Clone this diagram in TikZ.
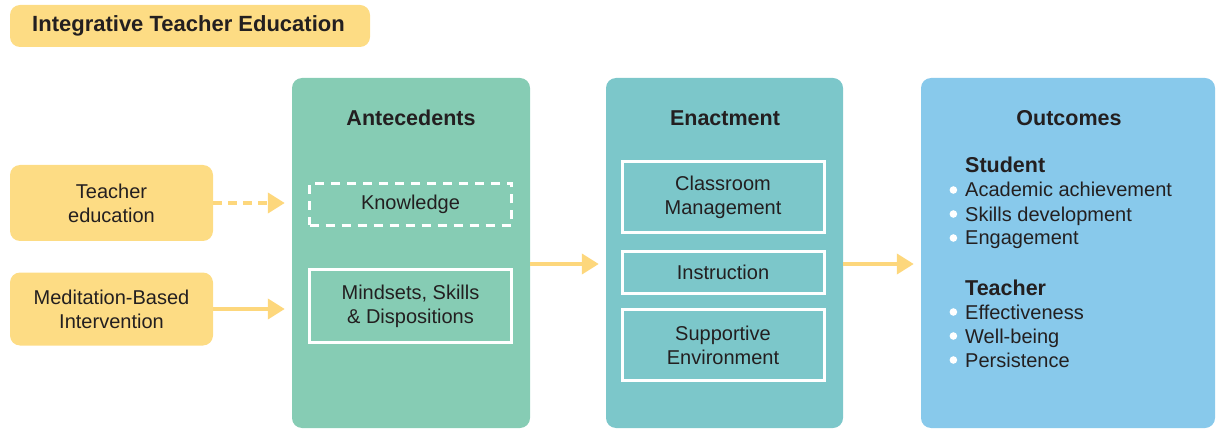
\documentclass[tikz,border=0pt]{standalone}
\usepackage{fontspec}
\setmainfont{Liberation Sans}
\usetikzlibrary{arrows.meta}

\definecolor{iteyellow}{HTML}{FDDC84}
\definecolor{arrowyellow}{HTML}{FDD77C}
\definecolor{antgreen}{HTML}{86CCB4}
\definecolor{enacteal}{HTML}{7CC7CA}
\definecolor{outblue}{HTML}{88C9EB}
\definecolor{inktext}{HTML}{231F20}

\newcommand\outbul{\llap{\tikz[baseline=0pt,x=1pt,y=1pt]\fill[white] (0,7) circle (3.8);\hspace{8pt}}}

\tikzset{
  panel/.style={rounded corners=10pt, minimum height=350pt, inner sep=0pt},
  source/.style={fill=iteyellow, rounded corners=10pt, minimum width=203pt, inner sep=0pt,
    align=center, font=\fontsize{20}{24}\selectfont},
  inbox/.style={draw=white, line width=3pt, minimum width=202pt, inner sep=0pt,
    align=center, font=\fontsize{20}{24}\selectfont},
  heading/.style={font=\bfseries\fontsize{21.5}{25}\selectfont},
  arr/.style={arrowyellow, line width=4pt, -{Triangle[length=17pt,width=20pt]}, shorten >=7pt},
}

\begin{document}
\begin{tikzpicture}[x=1pt,y=-1pt, every node/.style={text=inktext}]
  \useasboundingbox (0,0) rectangle (1217,430);

  % title
  \node[fill=iteyellow, rounded corners=10pt, minimum width=360pt, minimum height=42pt] (ite) at (190,26) {};
  \node[font=\bfseries\fontsize{22}{25}\selectfont] (iteh) at (188.5,26) {Integrative Teacher Education};

  % sources
  \node[source, minimum height=76pt] (ted) at (111.5,203) {Teacher\\education};
  \node[source, minimum height=73pt] (mbi) at (111.5,309) {Meditation-Based\\Intervention};

  % panels
  \node[panel, fill=antgreen, minimum width=238pt] (ant) at (411,253) {};
  \node[panel, fill=enacteal, minimum width=237pt] (enc) at (724.5,253) {};
  \node[panel, fill=outblue, minimum width=294pt] (out) at (1068,253) {};

  \node[heading] (anth) at (411,118) {Antecedents};
  \node[heading] (ench) at (725,118) {Enactment};
  \node[heading] (outh) at (1069,118) {Outcomes};

  % antecedents
  \node[inbox, dash pattern=on 9pt off 7pt, minimum height=42pt] (kno) at (410.5,204.5) {Knowledge};
  \node[inbox, minimum height=73pt] (msd) at (410.5,306) {Mindsets, Skills\\\& Dispositions};

  % enactment
  \node[inbox, minimum height=71pt] (clm) at (723,197) {Classroom\\Management};
  \node[inbox, minimum height=42pt] (ins) at (723,272.5) {Instruction};
  \node[inbox, minimum height=71pt] (sue) at (723,345) {Supportive\\Environment};

  % outcomes
  \node[anchor=base west, align=left, inner sep=0pt, font=\fontsize{20}{24}\selectfont] (stu) at (965,245)
    {{\bfseries\fontsize{21.5}{24}\selectfont Student}\\
     \outbul Academic achievement\\
     \outbul Skills development\\
     \outbul Engagement};
  \node[anchor=base west, align=left, inner sep=0pt, font=\fontsize{20}{24}\selectfont] (tea) at (965,367)
    {{\bfseries\fontsize{21.5}{24}\selectfont Teacher}\\
     \outbul Effectiveness\\
     \outbul Well-being\\
     \outbul Persistence};

  % arrows
  \draw[arr, dash pattern=on 9pt off 6pt] (ted.east) -- (ted.east -| ant.west);
  \draw[arr] (mbi.east) -- (mbi.east -| ant.west);
  \draw[arr] ([yshift=-11pt]ant.east) -- ([yshift=-11pt]enc.west);
  \draw[arr] ([yshift=-11pt]enc.east) -- ([yshift=-11pt]out.west);
\end{tikzpicture}
\end{document}
